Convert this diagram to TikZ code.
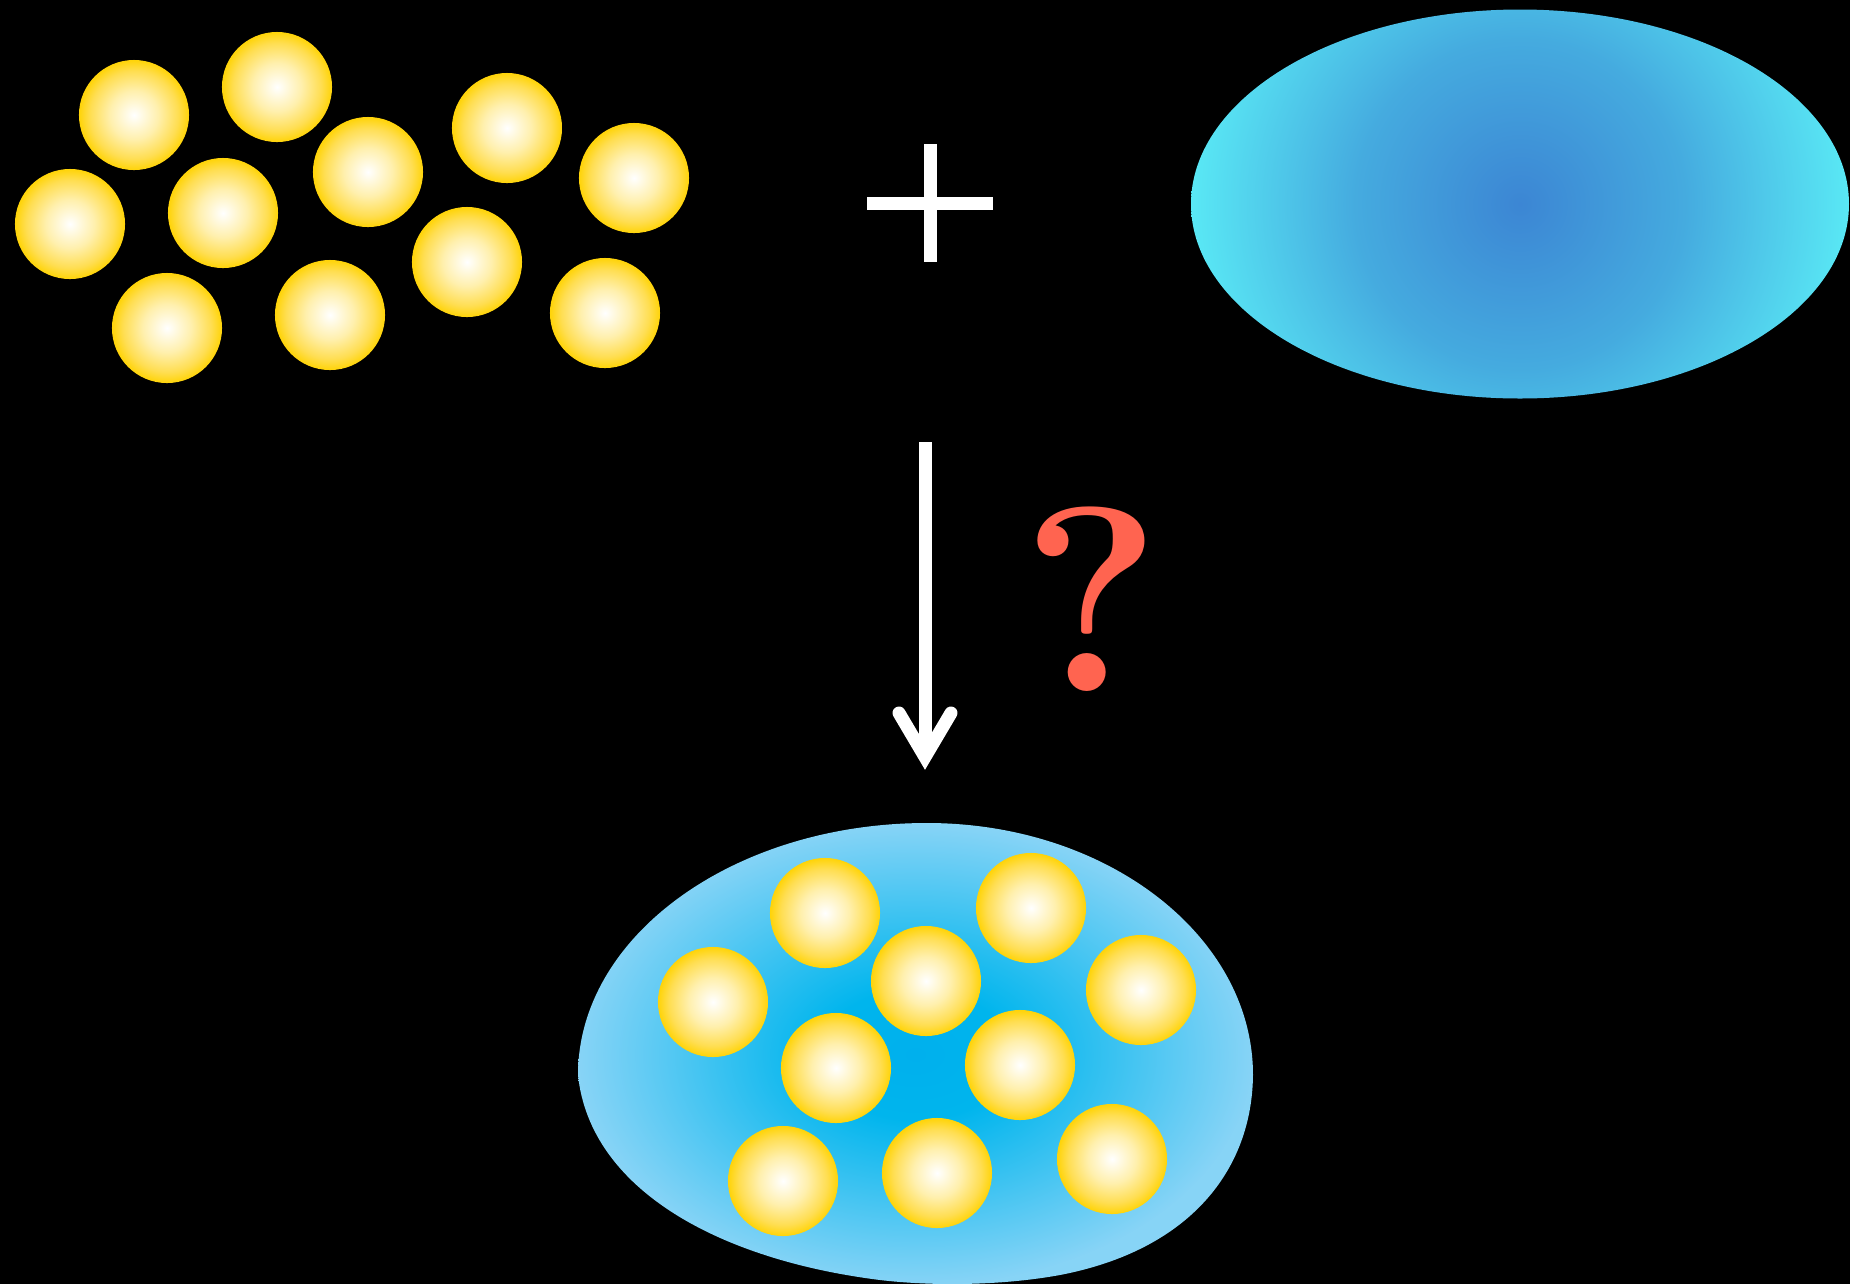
\documentclass[tikz,border=0pt]{standalone}
\usetikzlibrary{shapes.geometric,calc}
\definecolor{qred}{RGB}{255,100,80}
\pgfdeclareradialshading{ballshade}{\pgfpoint{0bp}{0bp}}{rgb(0bp)=(1,1,1); rgb(11bp)=(1,0.94,0.68); rgb(20bp)=(1,0.87,0.32); rgb(25bp)=(1,0.83,0.03); rgb(50bp)=(1,0.83,0.03)}
\pgfdeclareradialshading{dropshade}{\pgfpoint{0bp}{0bp}}{rgb(0bp)=(0.235,0.525,0.83); rgb(12.5bp)=(0.27,0.67,0.875); rgb(25bp)=(0.35,0.91,0.96); rgb(50bp)=(0.35,0.91,0.96)}
\pgfdeclareradialshading{blobshade}{\pgfpoint{0bp}{0bp}}{rgb(0bp)=(0,0.69,0.93); rgb(7bp)=(0,0.71,0.93); rgb(25bp)=(0.53,0.83,0.965); rgb(50bp)=(0.53,0.83,0.965)}
\tikzset{
  ball/.style={circle, inner sep=0pt, minimum size=1.1cm, shading=ballshade},
  bar/.style={white, line width=0.13cm},
}
\begin{document}
\begin{tikzpicture}[x=0.01cm,y=-0.01cm]
\useasboundingbox (0,0) rectangle (1850,1284);
\fill[black] (0,0) rectangle (1850,1284);
% top-left balls
\foreach \n/\px/\py in {t1/134/115, t2/277/87, t3/507/128, t4/70/224, t5/223/213, t6/368/172, t7/634/178, t8/167/328, t9/330/315, t10/467/262, t11/605/313}
  \node[ball] (\n) at (\px,\py) {};
% plus sign
\coordinate (plus) at (930,203);
\draw[bar] ($(plus)+(-63,0)$) -- ($(plus)+(63,0)$);
\draw[bar] ($(plus)+(0,-59)$) -- ($(plus)+(0,59)$);
% blue ellipse (circular gradient clipped to the ellipse)
\node[ellipse, inner sep=0pt, minimum width=6.58cm, minimum height=3.89cm] (drop) at (1520,204) {};
\begin{scope}
  \clip (drop.center) ellipse (329 and 194.5);
  \shade[shading=dropshade] (drop.center) circle (329);
\end{scope}
% arrow
\coordinate (atop) at (925,442);
\coordinate (abot) at (925,757);
\draw[bar] (atop) -- (abot);
\draw[bar, line cap=round, line join=miter] ($(abot)+(-26,-44)$) -- (abot) -- ($(abot)+(26,-44)$);
% question mark
\node[inner sep=0pt, text=qred, font=\fontsize{75}{80}\selectfont\bfseries] (q) at (1092,599) {?};
% bottom blob
\shade[shading=blobshade] (578,1075) .. controls (578,936) and (734,823) .. (927,823)
  .. controls (1107,823) and (1253,936) .. (1253,1075)
  .. controls (1252,1170) and (1190,1250) .. (1060,1275)
  .. controls (1000,1286) and (930,1286) .. (880,1280)
  .. controls (720,1260) and (590,1190) .. (578,1075) -- cycle;
\foreach \n/\px/\py in {b1/825/913, b2/1031/908, b3/713/1002, b4/926/981, b5/1141/990, b6/836/1068, b7/1020/1065, b8/783/1181, b9/937/1173, b10/1112/1159}
  \node[ball] (\n) at (\px,\py) {};
\end{tikzpicture}
\end{document}
